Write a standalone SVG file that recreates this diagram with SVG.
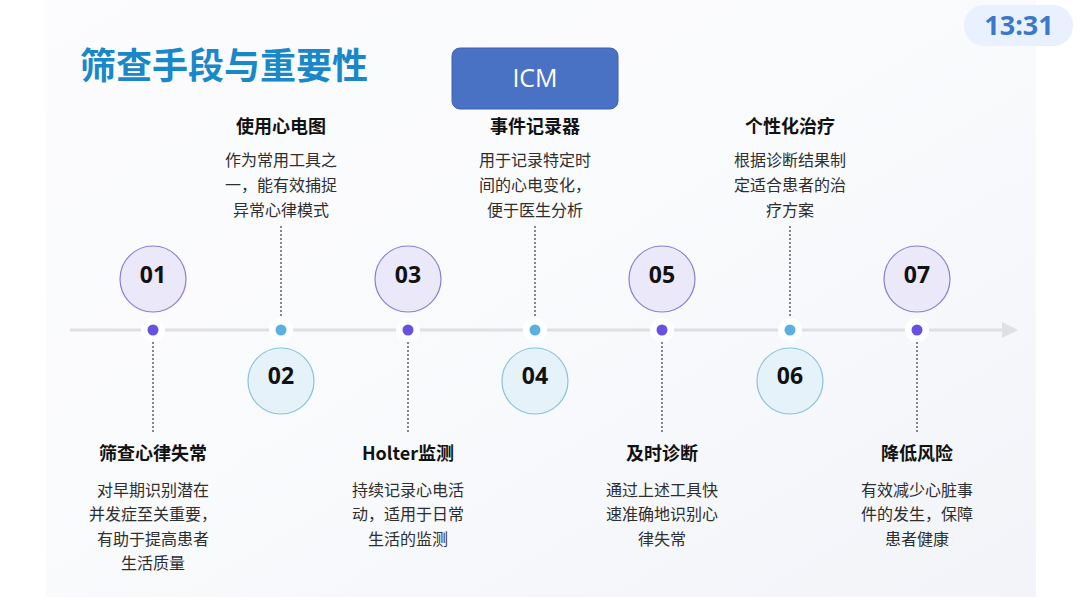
<svg xmlns="http://www.w3.org/2000/svg" width="1080" height="606" viewBox="0 0 1080 606">
<defs>
<linearGradient id="bg" x1="0" y1="0" x2="1" y2="1">
<stop offset="0" stop-color="#fcfcfe"/>
<stop offset="0.5" stop-color="#f9fafc"/>
<stop offset="1" stop-color="#f2f4f9"/>
</linearGradient>
<style>
.cj{font-family:"Noto Sans CJK SC","Noto Sans",sans-serif;}
.ttl{font-size:18px;font-weight:bold;fill:#111;text-anchor:middle;}
.dsc{font-size:16px;fill:#2e2e2e;text-anchor:middle;}
.num{font-family:"Open Sans","Noto Sans",sans-serif;font-size:23px;font-weight:bold;fill:#111;text-anchor:middle;}
.co{fill:#ebe8f9;stroke:#8b7fd0;stroke-width:1.2;}
.ce{fill:#e5f2f9;stroke:#8cc3d6;stroke-width:1.2;}
.dash{stroke:#7a7a7a;stroke-width:1.8;stroke-dasharray:2 2;fill:none;}
.halo{fill:#ffffff;}
.do{fill:#6652e0;}
.de{fill:#5ab0e0;}
</style>
</defs>
<rect x="0" y="0" width="1080" height="606" fill="#ffffff"/>
<rect x="46" y="0" width="990" height="597" fill="url(#bg)"/>
<text class="cj" x="80" y="79" font-size="36" font-weight="bold" fill="#1a87c9">筛查手段与重要性</text>
<g id="icm">
<rect x="452" y="48" width="166" height="61" rx="8" fill="#4a72c4" stroke="#3d62ad" stroke-width="1"/>
<text x="535" y="87" font-family="Open Sans, Noto Sans, sans-serif" font-size="25" fill="#ffffff" text-anchor="middle">ICM</text>
</g>
<g id="clock">
<rect x="964" y="5" width="109" height="41" rx="20" fill="#e8f1fd"/>
<text x="1019" y="35" font-family="Open Sans, Noto Sans, sans-serif" font-size="27" font-weight="bold" fill="#3b78c9" text-anchor="middle">13:31</text>
</g>
<g id="connectors">
<line x1="70" y1="330" x2="1004" y2="330" stroke="#e0e0e4" stroke-width="3"/>
<polygon points="1002,322 1018,330 1002,338" fill="#e0e0e4"/>
<line class="dash" x1="153" y1="342" x2="153" y2="433"/>
<line class="dash" x1="281" y1="226" x2="281" y2="319"/>
<line class="dash" x1="408" y1="342" x2="408" y2="433"/>
<line class="dash" x1="535" y1="226" x2="535" y2="319"/>
<line class="dash" x1="662" y1="342" x2="662" y2="433"/>
<line class="dash" x1="790" y1="226" x2="790" y2="319"/>
<line class="dash" x1="917" y1="342" x2="917" y2="433"/>
</g>
<g id="n01">
<circle class="halo" cx="153" cy="330" r="12"/><circle class="do" cx="153" cy="330" r="5.5"/>
<circle class="co" cx="153" cy="279" r="33"/><text class="num" x="153" y="283">01</text>
<text class="cj ttl" x="153" y="460">筛查心律失常</text>
<text class="cj dsc" x="153" y="496">对早期识别潜在</text>
<text class="cj dsc" x="153" y="520">并发症至关重要，</text>
<text class="cj dsc" x="153" y="545">有助于提高患者</text>
<text class="cj dsc" x="153" y="569">生活质量</text>
</g>
<g id="n02">
<circle class="halo" cx="281" cy="330" r="12"/><circle class="de" cx="281" cy="330" r="5.5"/>
<circle class="ce" cx="281" cy="381" r="33"/><text class="num" x="281" y="384">02</text>
<text class="cj ttl" x="281" y="133">使用心电图</text>
<text class="cj dsc" x="281" y="166">作为常用工具之</text>
<text class="cj dsc" x="281" y="191">一，能有效捕捉</text>
<text class="cj dsc" x="281" y="216">异常心律模式</text>
</g>
<g id="n03">
<circle class="halo" cx="408" cy="330" r="12"/><circle class="do" cx="408" cy="330" r="5.5"/>
<circle class="co" cx="408" cy="279" r="33"/><text class="num" x="408" y="283">03</text>
<text class="cj ttl" x="408" y="460">Holter监测</text>
<text class="cj dsc" x="408" y="496">持续记录心电活</text>
<text class="cj dsc" x="408" y="520">动，适用于日常</text>
<text class="cj dsc" x="408" y="545">生活的监测</text>
</g>
<g id="n04">
<circle class="halo" cx="535" cy="330" r="12"/><circle class="de" cx="535" cy="330" r="5.5"/>
<circle class="ce" cx="535" cy="381" r="33"/><text class="num" x="535" y="384">04</text>
<text class="cj ttl" x="535" y="133">事件记录器</text>
<text class="cj dsc" x="535" y="166">用于记录特定时</text>
<text class="cj dsc" x="535" y="191">间的心电变化，</text>
<text class="cj dsc" x="535" y="216">便于医生分析</text>
</g>
<g id="n05">
<circle class="halo" cx="662" cy="330" r="12"/><circle class="do" cx="662" cy="330" r="5.5"/>
<circle class="co" cx="662" cy="279" r="33"/><text class="num" x="662" y="283">05</text>
<text class="cj ttl" x="662" y="460">及时诊断</text>
<text class="cj dsc" x="662" y="496">通过上述工具快</text>
<text class="cj dsc" x="662" y="520">速准确地识别心</text>
<text class="cj dsc" x="662" y="545">律失常</text>
</g>
<g id="n06">
<circle class="halo" cx="790" cy="330" r="12"/><circle class="de" cx="790" cy="330" r="5.5"/>
<circle class="ce" cx="790" cy="381" r="33"/><text class="num" x="790" y="384">06</text>
<text class="cj ttl" x="790" y="133">个性化治疗</text>
<text class="cj dsc" x="790" y="166">根据诊断结果制</text>
<text class="cj dsc" x="790" y="191">定适合患者的治</text>
<text class="cj dsc" x="790" y="216">疗方案</text>
</g>
<g id="n07">
<circle class="halo" cx="917" cy="330" r="12"/><circle class="do" cx="917" cy="330" r="5.5"/>
<circle class="co" cx="917" cy="279" r="33"/><text class="num" x="917" y="283">07</text>
<text class="cj ttl" x="917" y="460">降低风险</text>
<text class="cj dsc" x="917" y="496">有效减少心脏事</text>
<text class="cj dsc" x="917" y="520">件的发生，保障</text>
<text class="cj dsc" x="917" y="545">患者健康</text>
</g>
</svg>
